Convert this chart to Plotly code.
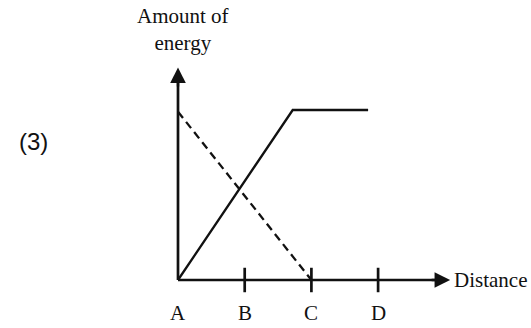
import plotly.graph_objects as go

# Stations along the distance axis
stations = ["A", "B", "C", "D"]
station_pos = [0, 1, 2, 3]

# Solid curve: rises, then levels off
solid_dist = [0, 1.72, 2.85]
solid_energy = [0, 10, 10]

# Dashed curve: falls to zero at C
dashed_dist = [0, 2]
dashed_energy = [9.9, 0]

# Axis extents (data units)
x_axis_end = 4.08
y_axis_end = 12.5

W, H = 531, 328
ORIGIN_PX = (178, 280)
UX, UY = 66.7, 17.0  # pixels per data unit

x_range = [-ORIGIN_PX[0] / UX, (W - ORIGIN_PX[0]) / UX]
y_range = [-(H - ORIGIN_PX[1]) / UY, ORIGIN_PX[1] / UY]

INK = "#111111"
SERIF = "Liberation Serif, Times New Roman, serif"

fig = go.Figure()

# Axis lines
fig.add_trace(go.Scatter(x=[0, x_axis_end - 0.1, None, 0, 0],
                         y=[0, 0, None, 0, y_axis_end - 0.6],
                         mode="lines", line=dict(color=INK, width=2.7),
                         hoverinfo="skip", showlegend=False))

# Tick marks at B, C, D
tx, ty = [], []
for p in station_pos[1:]:
    tx += [p, p, None]
    ty += [-0.72, 0.72, None]
fig.add_trace(go.Scatter(x=tx, y=ty, mode="lines",
                         line=dict(color=INK, width=2.7),
                         hoverinfo="skip", showlegend=False))

# Energy curves
fig.add_trace(go.Scatter(x=solid_dist, y=solid_energy, mode="lines",
                         line=dict(color=INK, width=2.3),
                         hoverinfo="skip", showlegend=False))
fig.add_trace(go.Scatter(x=dashed_dist, y=dashed_energy, mode="lines",
                         line=dict(color=INK, width=2.3, dash="8px,5px"),
                         hoverinfo="skip", showlegend=False))

annotations = []
# Arrowheads
annotations.append(dict(x=x_axis_end, y=0, ax=x_axis_end - 0.3, ay=0,
                        xref="x", yref="y", axref="x", ayref="y",
                        showarrow=True, arrowhead=2, arrowsize=1.3, arrowwidth=2.4,
                        arrowcolor=INK, text=""))
annotations.append(dict(x=0, y=y_axis_end, ax=0, ay=y_axis_end - 1.2,
                        xref="x", yref="y", axref="x", ayref="y",
                        showarrow=True, arrowhead=2, arrowsize=1.3, arrowwidth=2.4,
                        arrowcolor=INK, text=""))

# Station labels
for name, p in zip(stations, station_pos):
    annotations.append(dict(x=p, y=-1.95, xref="x", yref="y", text=name,
                            showarrow=False, xanchor="center", yanchor="middle",
                            font=dict(family=SERIF, size=21, color=INK)))

# Axis titles
annotations.append(dict(x=x_axis_end + 0.03, y=0, xref="x", yref="y",
                        text="Distance", showarrow=False,
                        xanchor="left", yanchor="middle",
                        font=dict(family=SERIF, size=21, color=INK)))
annotations.append(dict(x=183 / W, y=1 - 30 / H, xref="paper", yref="paper",
                        text="Amount of<br>energy", showarrow=False,
                        xanchor="center", yanchor="middle",
                        font=dict(family=SERIF, size=21, color=INK)))

# Panel number
annotations.append(dict(x=33 / W, y=1 - 141 / H, xref="paper", yref="paper",
                        text="(3)", showarrow=False,
                        xanchor="center", yanchor="middle",
                        font=dict(family="Liberation Sans, Arial, sans-serif",
                                  size=24, color=INK)))

fig.update_layout(
    width=W, height=H,
    margin=dict(l=0, r=0, t=0, b=0),
    paper_bgcolor="white", plot_bgcolor="white",
    xaxis=dict(range=x_range, visible=False, fixedrange=True),
    yaxis=dict(range=y_range, visible=False, fixedrange=True),
    annotations=annotations,
    showlegend=False,
)

fig.write_html("out.html")
